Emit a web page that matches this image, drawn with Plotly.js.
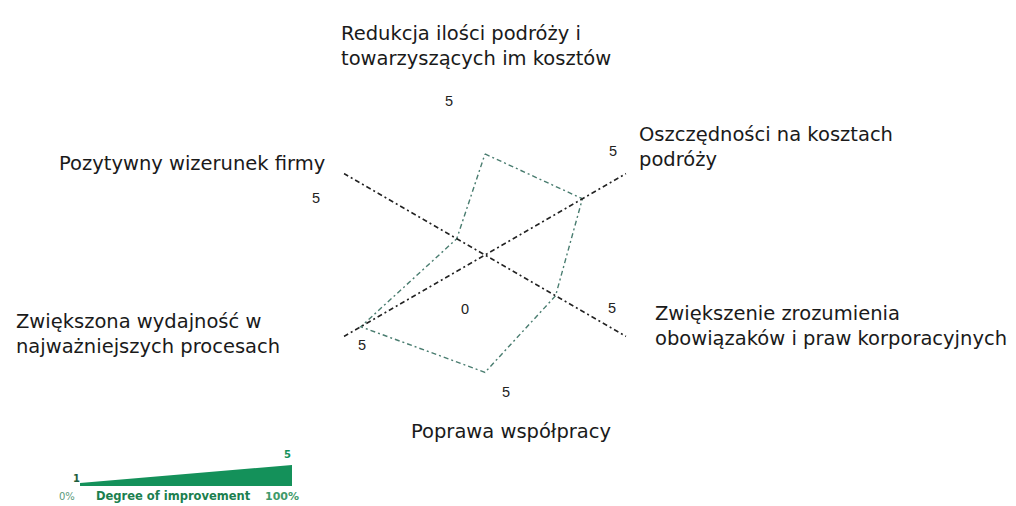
<!DOCTYPE html>
<html>
<head>
<meta charset="utf-8">
<script src="https://cdn.plot.ly/plotly-3.0.1.min.js"></script>
<style>
  html, body { margin: 0; padding: 0; background: #fff; }
  #chart { width: 1016px; height: 506px; }
</style>
</head>
<body>
<div id="chart"></div>
<script>
// categories, clockwise from the top
const categories = [
  'Redukcja ilości podróży i<br>towarzyszących im kosztów',
  'Oszczędności na kosztach<br>podróży',
  'Zwiększenie zrozumienia<br>obowiązaków i praw korporacyjnych',
  'Poprawa współpracy',
  'Zwiększona wydajność w<br>najważniejszych procesach',
  'Pozytywny wizerunek firmy'
];
const values = [3.1, 3.45, 2.5, 3.6, 4.4, 1.0];
const scaleMax = 5;
const scaleMin = 0;

// only the two diagonal axes are drawn in the original
const axisPairs = [
  [5, 2],
  [4, 1]
];

// legend wedge: degree of improvement 1..5 over 0%..100%
const legendLow = '1';
const legendHigh = '5';
const legendText = ['0%', 'Degree of improvement', '100%'];

const W = 1016, H = 506;
const cx = 485, cy = 255, rad = 163;
const px = x => x / W;
const py = y => 1 - y / H;

const axisColor = '#222';
const polyColor = '#4a7d70';
const green = '#14915a';
const labelFont = { family: 'DejaVu Sans', size: 19.5, color: '#1a1a1a' };
const tickFont = { family: 'Liberation Sans', size: 14.5, color: '#222' };

const traces = [];

traces.push({
  type: 'scatterpolar',
  r: values.concat([values[0]]),
  theta: categories.concat([categories[0]]),
  mode: 'lines',
  line: { color: polyColor, width: 1.4, dash: '5px,3px,2px,3px' }
});

axisPairs.forEach(([a, b]) => {
  traces.push({
    type: 'scatterpolar',
    r: [scaleMax, scaleMin, scaleMax],
    theta: [categories[a], categories[a], categories[b]],
    mode: 'lines',
    line: { color: axisColor, width: 1.5, dash: '5px,3px,2px,3px' },
    hoverinfo: 'skip'
  });
});

// label placement next to the chart (left x / centre y in pixels, anchor)
const labelPos = [
  [339, 46, 'left'],
  [637, 147, 'left'],
  [653, 326, 'left'],
  [511, 431, 'center'],
  [14, 334, 'left'],
  [57, 163, 'left']
];
// positions of the "5" scale marks around the chart
const maxPos = [
  [449, 101], [613, 151], [612, 308], [506, 392], [362, 345], [316, 198]
];

const annotations = [];
categories.forEach((c, i) => {
  annotations.push({
    xref: 'paper', yref: 'paper',
    x: px(labelPos[i][0]), y: py(labelPos[i][1]),
    xanchor: labelPos[i][2], yanchor: 'middle', align: labelPos[i][2],
    text: c, showarrow: false, font: labelFont
  });
  annotations.push({
    xref: 'paper', yref: 'paper',
    x: px(maxPos[i][0]), y: py(maxPos[i][1]),
    xanchor: 'center', yanchor: 'middle',
    text: String(scaleMax), showarrow: false, font: tickFont
  });
});
annotations.push({
  xref: 'paper', yref: 'paper', x: px(465), y: py(309),
  xanchor: 'center', yanchor: 'middle',
  text: String(scaleMin), showarrow: false, font: tickFont
});

// legend
const legFont = { family: 'DejaVu Sans', size: 10, color: green };
annotations.push(
  { xref: 'paper', yref: 'paper', x: px(76), y: py(478), xanchor: 'center', yanchor: 'middle',
    text: '<b>' + legendLow + '</b>', showarrow: false, font: Object.assign({}, legFont, { color: '#1d5e3c' }) },
  { xref: 'paper', yref: 'paper', x: px(287), y: py(454), xanchor: 'center', yanchor: 'middle',
    text: '<b>' + legendHigh + '</b>', showarrow: false, font: legFont },
  { xref: 'paper', yref: 'paper', x: px(57), y: py(496), xanchor: 'left', yanchor: 'middle',
    text: legendText[0], showarrow: false, font: Object.assign({}, legFont, { color: '#5a9a7a' }) },
  { xref: 'paper', yref: 'paper', x: px(94), y: py(496), xanchor: 'left', yanchor: 'middle',
    text: '<b>' + legendText[1] + '</b>', showarrow: false, font: Object.assign({}, legFont, { size: 11.5, color: '#1b7f4f' }) },
  { xref: 'paper', yref: 'paper', x: px(301), y: py(496), xanchor: 'right', yanchor: 'middle',
    text: '<b>' + legendText[2] + '</b>', showarrow: false, font: Object.assign({}, legFont, { size: 11, color: '#3f9a6a' }) }
);

const shapes = [{
  type: 'path', xref: 'paper', yref: 'paper',
  path: `M ${px(80)},${py(486)} L ${px(80)},${py(483)} L ${px(292)},${py(465)} L ${px(292)},${py(486)} Z`,
  fillcolor: green, line: { width: 0 }
}];

const layout = {
  width: W, height: H,
  margin: { l: 0, r: 0, t: 0, b: 0 },
  paper_bgcolor: '#fff',
  showlegend: false,
  polar: {
    domain: { x: [px(cx - rad), px(cx + rad)], y: [py(cy + rad), py(cy - rad)] },
    bgcolor: 'rgba(0,0,0,0)',
    radialaxis: { range: [scaleMin, scaleMax], visible: false },
    angularaxis: {
      type: 'category', categoryorder: 'array', categoryarray: categories,
      rotation: 90, direction: 'clockwise',
      showgrid: false, showline: false, showticklabels: false, ticks: ''
    }
  },
  annotations,
  shapes
};

Plotly.newPlot('chart', traces, layout, { staticPlot: true });
</script>
</body>
</html>
